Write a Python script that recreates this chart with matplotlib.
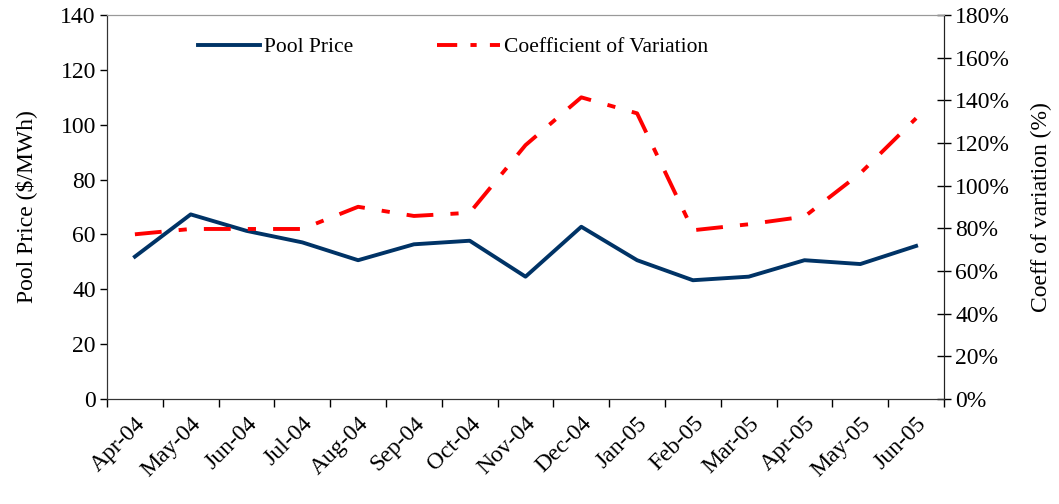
import matplotlib
matplotlib.use("Agg")
import matplotlib.pyplot as plt
import numpy as np
from matplotlib.ticker import FuncFormatter, FixedLocator
from matplotlib.lines import Line2D

plt.rcParams['font.family'] = ['Liberation Serif', 'DejaVu Serif']

months = ['Apr-04', 'May-04', 'Jun-04', 'Jul-04', 'Aug-04', 'Sep-04', 'Oct-04',
          'Nov-04', 'Dec-04', 'Jan-05', 'Feb-05', 'Mar-05', 'Apr-05', 'May-05', 'Jun-05']
pool_price = [51.9, 67.3, 61.3, 57.1, 50.6, 56.4, 57.7, 44.6, 62.8, 50.6, 43.3, 44.6, 50.6, 49.2, 55.8]
coeff_var = [77.2, 79.7, 79.7, 79.7, 90.1, 85.8, 87.3, 119.0, 141.4, 133.9, 79.1, 81.9, 85.5, 105.8, 131.6]

navy = '#003366'
red = '#FF0000'
FS = 17
LFS = 15.5
LW = 2.8

fig = plt.figure(figsize=(10.59, 5.04), dpi=100)
ax = fig.add_axes([107/1059, 1-399/504, (944-107)/1059, (399-15)/504])
ax2 = ax.twinx()

x = np.arange(len(months))
l1, = ax.plot(x, pool_price, color=navy, lw=LW, zorder=3, label='Pool Price')
dash = (0, (6.9, 4.4, 2.1, 4.4))
l2, = ax2.plot(x, coeff_var, color=red, lw=LW, linestyle=dash, dash_capstyle='butt',
               zorder=3, label='Coefficient of Variation')

ax.set_xlim(-0.5, len(months) - 0.5)
ax.set_ylim(0, 140)
ax2.set_ylim(0, 180)
ax.set_yticks(np.arange(0, 141, 20))
ax2.set_yticks(np.arange(0, 181, 20))
ax2.yaxis.set_major_formatter(FuncFormatter(lambda v, p: f'{int(v)}%'))

ax.xaxis.set_major_locator(FixedLocator(np.arange(-0.5, len(months), 1.0)))
ax.xaxis.set_minor_locator(FixedLocator(x))
ax.set_xticklabels([], minor=False)
ax.set_xticklabels(months, minor=True, rotation=45, ha='right', rotation_mode='anchor', fontsize=FS)
ax.tick_params(axis='x', which='major', direction='out', length=6, width=1)
ax.tick_params(axis='x', which='minor', length=0, pad=10)
ax.tick_params(axis='y', direction='out', length=5, width=1, labelsize=FS, pad=3)
ax2.tick_params(axis='y', direction='inout', length=10, width=1, labelsize=FS, pad=3)

for a in (ax, ax2):
    a.spines['top'].set_color('#999999')
    a.spines['left'].set_color('#333333')
    a.spines['bottom'].set_color('#333333')
    a.spines['right'].set_color('#222222')

ax.set_ylabel('Pool Price ($/MWh)', fontsize=FS, labelpad=17)
ax2.set_ylabel('Coeff of variation (%)', fontsize=FS, labelpad=15)

leg_dash = (0, (5.2, 3.4, 1.6, 3.4))
h1 = Line2D([], [], color=navy, lw=LW)
h2 = Line2D([], [], color=red, lw=LW, linestyle=leg_dash, dash_capstyle='butt')
fig.legend([h1, h2], ['Pool Price', 'Coefficient of Variation'], ncol=2, frameon=False,
           fontsize=LFS, handlelength=2.9, handletextpad=0.19, columnspacing=3.9,
           loc='center left', bbox_to_anchor=(189/1059, 1-47/504), borderaxespad=0)

fig.savefig('out.png', dpi=100)
